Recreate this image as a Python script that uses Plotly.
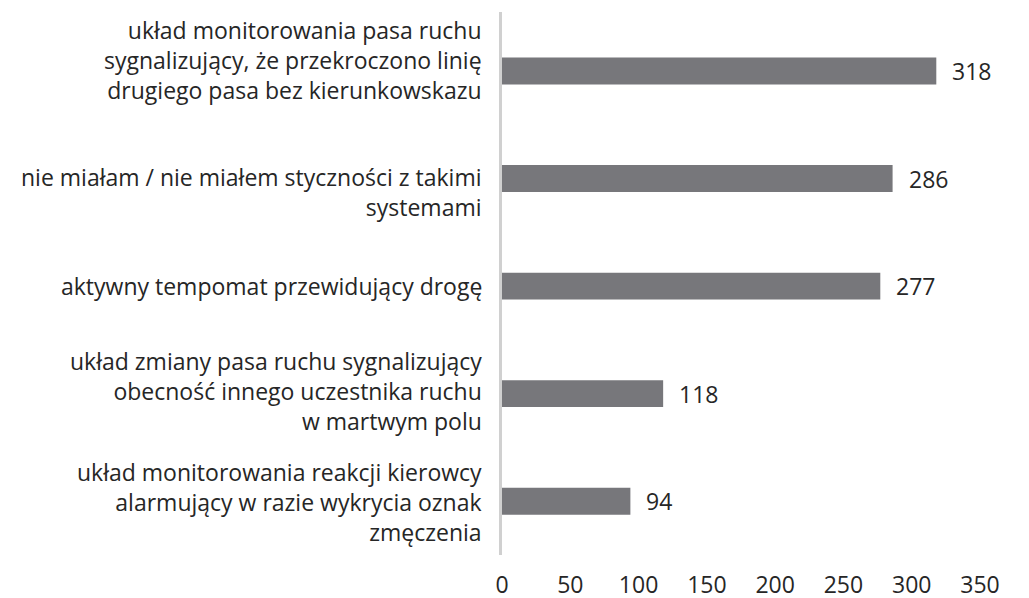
import plotly.graph_objects as go

categories = [
    "układ monitorowania pasa ruchu<br>sygnalizujący, że przekroczono linię<br>drugiego pasa bez kierunkowskazu",
    "nie miałam / nie miałem styczności z takimi<br>systemami",
    "aktywny tempomat przewidujący drogę",
    "układ zmiany pasa ruchu sygnalizujący<br>obecność innego uczestnika ruchu<br>w martwym polu",
    "układ monitorowania reakcji kierowcy<br>alarmujący w razie wykrycia oznak<br>zmęczenia",
]
values = [318, 286, 277, 118, 94]
x_ticks = [0, 50, 100, 150, 200, 250, 300, 350]

# label vertical offsets (px), purely presentational
label_yshift = [11, -13, 0, 3, -1]

FONT = "Open Sans"
FS = 23
TEXT_COLOR = "#262626"
BAR_COLOR = "#77777b"

ids = [f"c{i}" for i in range(len(categories))]

fig = go.Figure()
fig.add_trace(go.Bar(
    x=values, y=ids, orientation="h",
    marker=dict(color=BAR_COLOR, line=dict(width=0)),
    width=0.25,
    hoverinfo="skip",
))

annotations = []
for cid, cat, ys in zip(ids, categories, label_yshift):
    annotations.append(dict(
        text=cat, xref="paper", x=0, yref="y", y=cid,
        xanchor="right", yanchor="middle", align="right",
        xshift=-18, yshift=ys, showarrow=False,
        font=dict(family=FONT, size=FS, color=TEXT_COLOR),
    ))
for cid, v in zip(ids, values):
    annotations.append(dict(
        text=str(v), xref="x", x=v, yref="y", y=cid,
        xanchor="left", yanchor="middle", xshift=14, showarrow=False,
        font=dict(family=FONT, size=FS, color=TEXT_COLOR),
    ))

fig.update_layout(
    width=1029, height=598,
    margin=dict(l=494, r=57, t=4, b=51, autoexpand=False),
    paper_bgcolor="white", plot_bgcolor="white",
    showlegend=False,
    annotations=annotations,
    xaxis=dict(
        range=[0, 350], tickvals=x_ticks, showgrid=False, zeroline=False,
        showline=False, ticks="outside", ticklen=9, tickcolor="rgba(0,0,0,0)",
        tickfont=dict(family=FONT, size=FS, color=TEXT_COLOR),
        automargin=False,
    ),
    yaxis=dict(
        categoryorder="array", categoryarray=ids[::-1],
        showticklabels=False, showgrid=False, zeroline=False,
        showline=True, linecolor="#d0d0d0", linewidth=3, ticks="",
        automargin=False,
    ),
)

fig.write_html("out.html")
